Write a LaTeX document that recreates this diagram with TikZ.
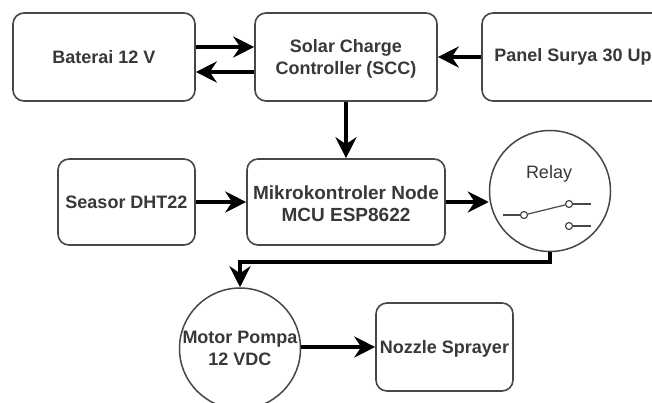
\documentclass[tikz,border=0pt]{standalone}
\usepackage{fontspec}
\setmainfont{Liberation Sans}
\usetikzlibrary{arrows.meta, positioning}

\begin{document}
\begin{tikzpicture}[
  x=1pt, y=-1pt,
  box type/.style={draw=black!72, line width=1.6pt, rounded corners=11pt, fill=white, align=center, font=\fontsize{18}{22}\selectfont\bfseries, text=black!78},
  round type/.style={draw=black!72, line width=1.5pt, circle, fill=white, inner sep=0pt, align=center, minimum size=121pt, font=\fontsize{18}{22}\selectfont\bfseries, text=black!78},
  contact/.style={draw=black!72, line width=1.2pt, circle, fill=white, inner sep=0pt, minimum size=7pt},
  arr/.style={-{Stealth[length=21pt, width=21pt, inset=7pt]}, line width=3.6pt, black},
  wire/.style={line width=1.2pt, black!72},
]
\useasboundingbox (0,0) rectangle (652,403);
\clip (0,0) rectangle (652,403);

% nodes
\node[box type, minimum width=182pt, minimum height=88pt] (baterai) at (104, 57) {Baterai 12 V};
\node[box type, minimum width=182pt, minimum height=88pt] (scc) at (346, 57) {\rule{0pt}{17pt}Solar Charge\\Controller (SCC)};
\node[box type, minimum width=182pt, minimum height=88pt] (panel) at (573, 57) {Panel Surya 30 Up};
\node[box type, minimum width=137pt, minimum height=86pt] (sensor) at (126.5, 202) {Seasor DHT22};
\node[box type, minimum width=198pt, minimum height=86pt, font=\fontsize{19}{22}\selectfont\bfseries] (mikro) at (346, 202) {\rule{0pt}{18pt}Mikrokontroler Node\\MCU ESP8622};
\node[round type] (relay) at (550, 191) {};
\node[round type] (motor) at (240, 348.5) {Motor Pompa\\12 VDC};
\node[box type, minimum width=137pt, minimum height=88pt, text depth=0pt] (nozzle) at (444.5, 347) {Nozzle Sprayer};

% relay symbol
\node[font=\fontsize{18}{22}\selectfont, text=black!78] (relaytext) at (549, 174) {Relay};
\node[contact] (common) at (524, 215) {};
\node[contact] (closed) at (569, 204) {};
\node[contact] (open) at (569, 226) {};
\coordinate (commonend) at (503, 215);
\coordinate (closedend) at (591, 204);
\coordinate (openend) at (591, 226);
\draw[wire] (commonend) -- (common);
\draw[wire] (common) -- (closed);
\draw[wire] (closed) -- (closedend);
\draw[wire] (open) -- (openend);

% edges
\draw[arr] ([yshift=10pt]baterai.east) -- ([yshift=10pt]scc.west);
\draw[arr] ([yshift=-15pt]scc.west) -- ([yshift=-15pt]baterai.east);
\draw[arr] (panel) -- (scc);
\draw[arr] (scc) -- (mikro);
\draw[arr] (sensor) -- (mikro);
\draw[arr] (mikro.east) -- (mikro.east -| relay.west);
\draw[arr] (relay.south) -- ++(0,10) -| (motor.north);
\draw[arr] (motor.east |- nozzle.west) -- (nozzle.west);

\end{tikzpicture}
\end{document}
